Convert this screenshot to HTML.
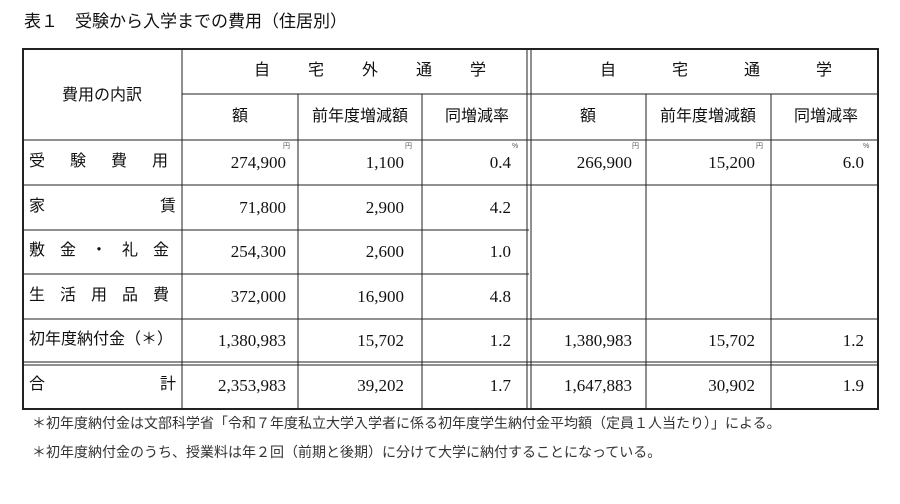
<!DOCTYPE html>
<html><head><meta charset="utf-8"><style>
body{margin:0;width:900px;height:504px;background:#fff;position:relative;overflow:hidden;font-family:"Liberation Sans","Noto Sans CJK JP",sans-serif;color:#111}
.t{position:absolute;white-space:nowrap;line-height:1}
.n{font-family:"Liberation Serif","Noto Serif CJK SC",serif;font-size:17px}
.j{font-size:15px}
.u{font-family:"Liberation Sans",sans-serif;font-size:7px;color:#555}
</style></head><body>
<div class="t j" style="left:24px;top:13px;font-size:17px">表１　受験から入学までの費用（住居別）</div>
<svg width="900" height="504" style="position:absolute;left:0;top:0">
<g stroke="#222" stroke-width="1" fill="none">
<rect x="23" y="49" width="855" height="360" stroke-width="2"/>
<line x1="182" y1="49" x2="182" y2="409"/>
<line x1="182" y1="94" x2="878" y2="94"/>
<line x1="23" y1="140" x2="878" y2="140"/>
<line x1="23" y1="185" x2="878" y2="185"/>
<line x1="23" y1="230" x2="529" y2="230"/>
<line x1="23" y1="274" x2="529" y2="274"/>
<line x1="23" y1="319" x2="878" y2="319"/>
<line x1="23" y1="362" x2="878" y2="362"/>
<line x1="23" y1="365" x2="878" y2="365"/>
<line x1="298" y1="94" x2="298" y2="409"/>
<line x1="422" y1="94" x2="422" y2="409"/>
<line x1="527" y1="49" x2="527" y2="409"/>
<line x1="531" y1="49" x2="531" y2="409"/>
<line x1="646" y1="94" x2="646" y2="409"/>
<line x1="771" y1="94" x2="771" y2="409"/>
</g></svg>
<div class="t j" style="left:62px;top:88px;font-size:16px">費用の内訳</div>
<div class="t j" style="left:254px;top:63px;font-size:16px;letter-spacing:2px">自　　宅　　外　　通　　学</div>
<div class="t j" style="left:600px;top:63px;font-size:16px;letter-spacing:2px">自　　　宅　　　通　　　学</div>
<div class="t j" style="left:232px;top:109px;font-size:16px">額</div>
<div class="t j" style="left:312px;top:109px;font-size:16px">前年度増減額</div>
<div class="t j" style="left:445px;top:109px;font-size:16px">同増減率</div>
<div class="t j" style="left:580px;top:109px;font-size:16px">額</div>
<div class="t j" style="left:660px;top:109px;font-size:16px">前年度増減額</div>
<div class="t j" style="left:794px;top:109px;font-size:16px">同増減率</div>

<div class="t j" style="left:29px;top:154px;font-size:16px;letter-spacing:25px">受験費用</div>
<div class="t j" style="left:29px;top:199px;font-size:16px">家</div><div class="t j" style="left:160px;top:199px;font-size:16px">賃</div>
<div class="t j" style="left:29px;top:243px;font-size:16px;letter-spacing:15px">敷金・礼金</div>
<div class="t j" style="left:29px;top:288px;font-size:16px;letter-spacing:15px">生活用品費</div>
<div class="t j" style="left:29px;top:332px;font-size:16px">初年度納付金（＊）</div>
<div class="t j" style="left:29px;top:377px;font-size:16px">合</div><div class="t j" style="left:160px;top:377px;font-size:16px">計</div>

<div class="t u" style="left:283px;top:143px">円</div>
<div class="t u" style="left:405px;top:143px">円</div>
<div class="t u" style="left:512px;top:143px">%</div>
<div class="t u" style="left:632px;top:143px">円</div>
<div class="t u" style="left:756px;top:143px">円</div>
<div class="t u" style="left:863px;top:143px">%</div>

<div class="t n" style="right:614px;top:154px">274,900</div>
<div class="t n" style="right:496px;top:154px">1,100</div>
<div class="t n" style="right:389px;top:154px">0.4</div>
<div class="t n" style="right:268px;top:154px">266,900</div>
<div class="t n" style="right:145px;top:154px">15,200</div>
<div class="t n" style="right:36px;top:154px">6.0</div>

<div class="t n" style="right:614px;top:199px">71,800</div>
<div class="t n" style="right:496px;top:199px">2,900</div>
<div class="t n" style="right:389px;top:199px">4.2</div>
<div class="t n" style="right:614px;top:243px">254,300</div>
<div class="t n" style="right:496px;top:243px">2,600</div>
<div class="t n" style="right:389px;top:243px">1.0</div>
<div class="t n" style="right:614px;top:288px">372,000</div>
<div class="t n" style="right:496px;top:288px">16,900</div>
<div class="t n" style="right:389px;top:288px">4.8</div>

<div class="t n" style="right:614px;top:332px">1,380,983</div>
<div class="t n" style="right:496px;top:332px">15,702</div>
<div class="t n" style="right:389px;top:332px">1.2</div>
<div class="t n" style="right:268px;top:332px">1,380,983</div>
<div class="t n" style="right:145px;top:332px">15,702</div>
<div class="t n" style="right:36px;top:332px">1.2</div>

<div class="t n" style="right:614px;top:377px">2,353,983</div>
<div class="t n" style="right:496px;top:377px">39,202</div>
<div class="t n" style="right:389px;top:377px">1.7</div>
<div class="t n" style="right:268px;top:377px">1,647,883</div>
<div class="t n" style="right:145px;top:377px">30,902</div>
<div class="t n" style="right:36px;top:377px">1.9</div>

<div class="t j" style="left:32px;top:416px;font-size:14px;color:#333">＊初年度納付金は文部科学省「令和７年度私立大学入学者に係る初年度学生納付金平均額（定員１人当たり）」による。</div>
<div class="t j" style="left:32px;top:445px;font-size:14px;color:#333">＊初年度納付金のうち、授業料は年２回（前期と後期）に分けて大学に納付することになっている。</div>
</body></html>
